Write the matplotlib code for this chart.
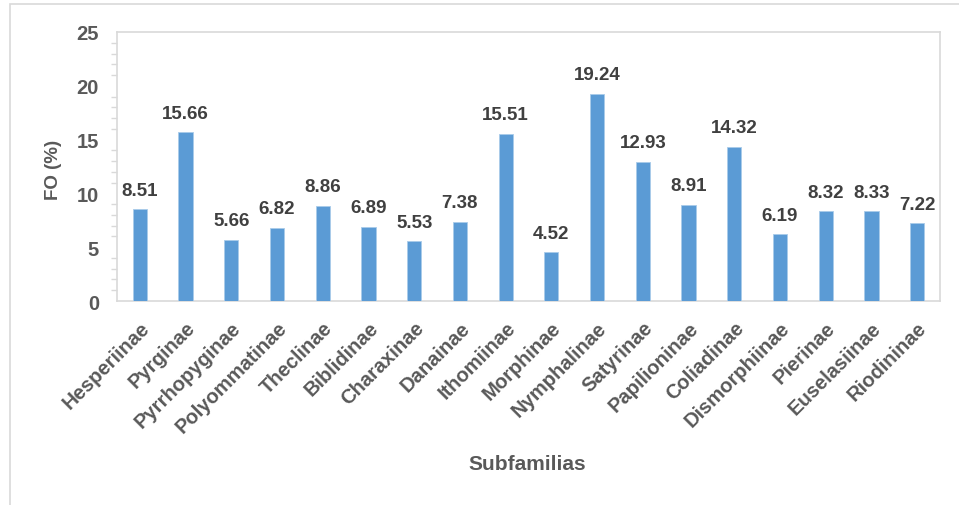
import matplotlib
matplotlib.use("Agg")
import matplotlib.pyplot as plt
from matplotlib.patches import Rectangle
from matplotlib.ticker import MultipleLocator

categories = ["Hesperiinae", "Pyrginae", "Pyrrhopyginae", "Polyommatinae", "Theclinae",
              "Biblidinae", "Charaxinae", "Danainae", "Ithomiinae", "Morphinae",
              "Nymphalinae", "Satyrinae", "Papilioninae", "Coliadinae", "Dismorphiinae",
              "Pierinae", "Euselasiinae", "Riodininae"]
values = [8.51, 15.66, 5.66, 6.82, 8.86, 6.89, 5.53, 7.38, 15.51, 4.52,
          19.24, 12.93, 8.91, 14.32, 6.19, 8.32, 8.33, 7.22]

plt.rcParams['font.family'] = ['Liberation Sans', 'DejaVu Sans']
plt.rcParams['font.weight'] = 'bold'

W, H = 959, 506
fig = plt.figure(figsize=(W/100, H/100), dpi=100)
ax = fig.add_axes([117/W, 1-302/H, (940-117)/W, (302-33)/H])

# outer chart frame
fig.patches.append(Rectangle((10/W, -0.01), 1.0, 1-5/H+0.01, transform=fig.transFigure,
                             fill=False, edgecolor="#d9d9d9", linewidth=1.2))

x = list(range(len(categories)))
ax.bar(x, values, width=0.31, color="#5b9bd5", edgecolor="#a9cbea", linewidth=0.6, zorder=3)
for xi, v in zip(x, values):
    ax.text(xi, v + 1.0, f"{v:.2f}", ha="center", va="bottom", fontsize=13.5,
            fontweight="bold", color="#404040")

ax.set_xlim(-0.5, len(categories) - 0.5)
ax.set_ylim(0, 25)
ax.yaxis.set_major_locator(MultipleLocator(5))
ax.yaxis.set_minor_locator(MultipleLocator(1))
ax.set_xticks(x)
ax.set_xticklabels(categories, rotation=45, ha="right", va="top",
                   rotation_mode="anchor", fontsize=14.5, fontweight="bold", color="#595959")
ax.tick_params(axis="x", length=0, pad=12)
ax.tick_params(axis="y", which="major", length=0, pad=13, labelsize=14.5, labelcolor="#595959")
ax.tick_params(axis="y", which="minor", length=4, color="#d9d9d9", width=1)
for lbl in ax.get_yticklabels():
    lbl.set_fontweight("bold")
for s in ax.spines.values():
    s.set_color("#d9d9d9")
    s.set_linewidth(1.2)

fig.text(53/W, 1-170/H, "FO (%)", rotation=90, ha="center", va="center",
         fontsize=13.5, fontweight="bold", color="#595959")
fig.text(527/W, 1-465/H, "Subfamilias", ha="center", va="center",
         fontsize=15, fontweight="bold", color="#595959")

fig.savefig("out.png", dpi=100)
